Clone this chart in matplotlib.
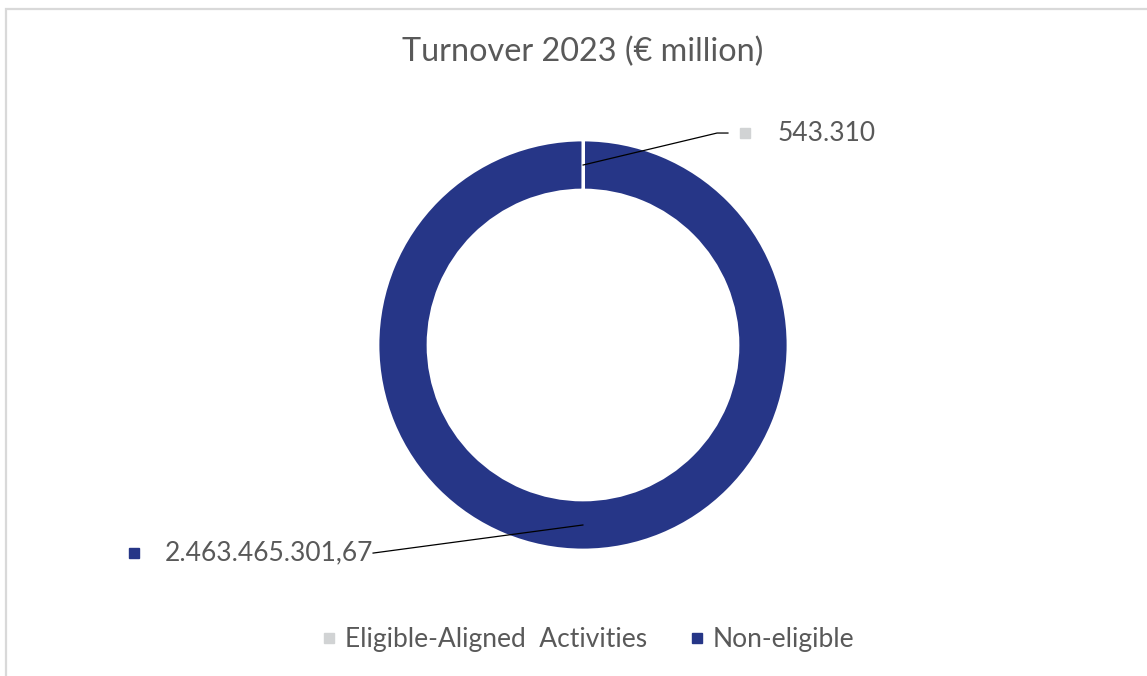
import matplotlib.pyplot as plt
import numpy as np
from matplotlib.lines import Line2D
from matplotlib.patches import Rectangle

categories = ["Eligible-Aligned  Activities", "Non-eligible"]
turnover = [543310.0, 2463465301.67]
value_labels = ["543.310", "2.463.465.301,67"]
colors = ["#d1d3d4", "#263687"]
title = "Turnover 2023 (\u20ac million)"

text_color = "#595959"
plt.rcParams["font.family"] = ["Lato", "DejaVu Sans"]

W, H, DPI = 1147, 676, 100
fig = plt.figure(figsize=(W / DPI, H / DPI), dpi=DPI)

# light chart-area border (top and left edges visible)
fig.patches.append(Rectangle((6 / W, -0.05), 1.2, 1 - 9 / H + 0.05,
                             transform=fig.transFigure, fill=False,
                             edgecolor="#d9d9d9", linewidth=1.6))

# donut axes: centre (583, 345) px, outer radius 205 px
cx, cy, r = 583, 345, 205
ax = fig.add_axes([(cx - r) / W, (H - cy - r) / H, 2 * r / W, 2 * r / H])
ring = 0.244
wedges, _ = ax.pie(turnover, colors=colors, startangle=90, counterclock=False,
                   radius=1, wedgeprops=dict(width=ring, edgecolor="white", linewidth=2))
ax.set_xlim(-1, 1)
ax.set_ylim(-1, 1)
ax.set_aspect("equal")
ax.axis("off")

# data labels with leader lines
label_pos = [(0.790, 1.034), (-2.19, -1.015)]   # legend-key square position
text_dx = [0.161, 0.151]
leader_end = [[(0.654, 1.034), (0.707, 1.034)], [(-1.024, -1.015)]]
mid_r = 1 - ring / 2
for w, col, lab, (lx, ly), dx, pts in zip(wedges, colors, value_labels,
                                          label_pos, text_dx, leader_end):
    ang = np.deg2rad((w.theta1 + w.theta2) / 2)
    x0, y0 = mid_r * np.cos(ang), mid_r * np.sin(ang)
    xs = [x0] + [p[0] for p in pts]
    ys = [y0] + [p[1] for p in pts]
    ax.plot(xs, ys, color="black", linewidth=0.9, clip_on=False, zorder=5)
    ax.plot([lx], [ly], marker="s", markersize=7, color=col, clip_on=False,
            linestyle="none")
    ax.text(lx + dx, ly, lab, fontsize=19, color=text_color, ha="left",
            va="center", clip_on=False, zorder=4)

fig.text(583 / W, 1 - 52 / H, title, fontsize=23.3, color=text_color,
         ha="center", va="center")

handles = [Line2D([], [], marker="s", linestyle="none", markersize=7, color=c)
           for c in colors]
fig.legend(handles, categories, loc="center", bbox_to_anchor=(588 / W, 1 - 640 / H),
           ncol=2, frameon=False, fontsize=19, labelcolor=text_color,
           handlelength=0.6, handletextpad=0.3, columnspacing=1.6)

fig.savefig("out.png", dpi=DPI)
